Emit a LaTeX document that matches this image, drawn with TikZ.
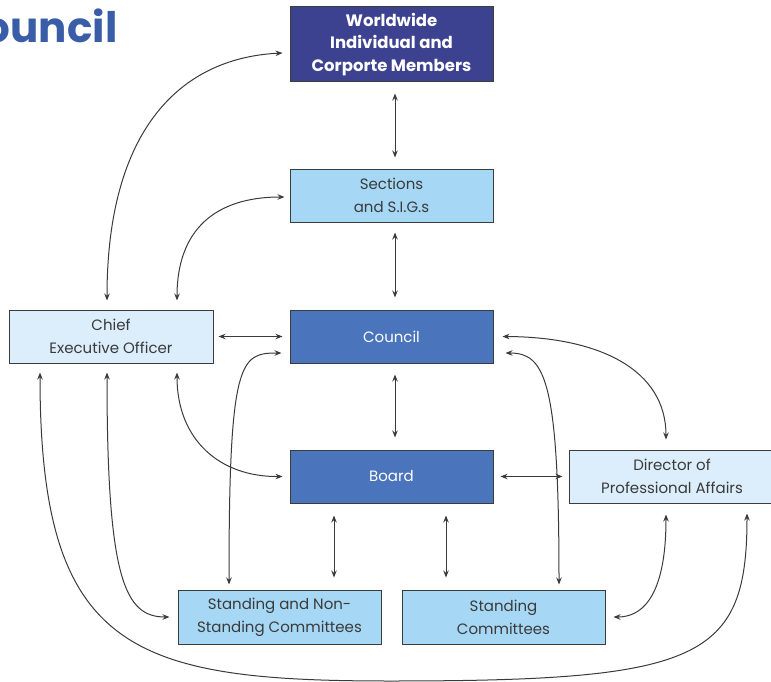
\documentclass[tikz,border=0pt]{standalone}
\usepackage{fontspec}
\setmainfont{Poppins}
\usetikzlibrary{arrows.meta,calc}
\definecolor{navy}{HTML}{3D4290}
\definecolor{midblue}{HTML}{4A74BC}
\definecolor{lightblue}{HTML}{A6D8F6}
\definecolor{paleblue}{HTML}{DCEEFB}
\definecolor{bordergray}{HTML}{3C3C3C}
\definecolor{textgray}{HTML}{3A3A3A}
\definecolor{titleblue}{HTML}{3A5DA8}
\tikzset{
  box/.style={draw=bordergray, line width=1pt, minimum width=203pt, minimum height=53pt,
    align=center, inner sep=0pt, text=textgray, font=\fontsize{15}{23}\selectfont},
  conn/.style={draw=textgray, line width=1pt,
    {Stealth[length=7pt,width=5.5pt]}-{Stealth[length=7pt,width=5.5pt]}},
}
\begin{document}
\begin{tikzpicture}[x=1pt,y=-1pt]
\useasboundingbox (0,0) rectangle (771,682);
\node[anchor=base east, font=\fontsize{42}{42}\selectfont\bfseries, text=titleblue] (title) at (121,43) {Council};
\node[box, fill=navy, text=white, minimum height=75pt, font=\fontsize{16.5}{22.5}\selectfont\bfseries] (ww) at (391.5,44.5) {Worldwide\\Individual and\\Corporte Members};
\node[box, fill=lightblue] (sec) at (391.5,195.5) {Sections\\and S.I.G.s};
\node[box, fill=midblue, text=white] (cou) at (391.5,336.5) {Council};
\node[box, fill=midblue, text=white] (brd) at (391.5,476.5) {Board};
\node[box, fill=paleblue, minimum width=204pt] (ceo) at (111,336.5) {Chief\\Executive Officer};
\node[box, fill=paleblue, minimum width=206pt] (dir) at (672,476.5) {Director of\\Professional Affairs};
\node[box, fill=lightblue, minimum height=54pt] (snc) at (279.5,617) {Standing and Non-\\Standing Committees};
\node[box, fill=lightblue, minimum height=54pt] (sc) at (503.5,617) {Standing\\Committees};

\draw[conn, shorten <=11pt, shorten >=11pt] ([xshift=3.5pt]ww.south) -- ([xshift=3.5pt]sec.north);
\draw[conn, shorten <=10pt, shorten >=12pt] ([xshift=3.5pt]sec.south) -- ([xshift=3.5pt]cou.north);
\draw[conn, shorten <=11pt, shorten >=12pt] ([xshift=3.5pt]cou.south) -- ([xshift=3.5pt]brd.north);
\draw[conn, shorten <=5pt, shorten >=7pt] (ceo.east) -- (cou.west);
\draw[conn, shorten <=7pt, shorten >=6pt] (brd.east) -- (dir.west);
\draw[conn, shorten <=12pt, shorten >=12pt] ([xshift=-57.5pt]brd.south) -- ([xshift=54.5pt]snc.north);
\draw[conn, shorten <=12pt, shorten >=12pt] ([xshift=54.5pt]brd.south) -- ([xshift=-57.5pt]sc.north);

\draw[conn] ([xshift=-4pt,yshift=9pt]ceo.north) .. controls (107,130) and (180,58) .. ([xshift=-7pt,yshift=-8.5pt]ww.west);
\draw[conn] ([xshift=66pt,yshift=9pt]ceo.north) .. controls (177,230) and (215,197) .. ([xshift=-5pt,yshift=-1.5pt]sec.west);
\draw[conn] ([xshift=66pt,yshift=-9pt]ceo.south) .. controls (177,440) and (220,477) .. ([xshift=-7pt]brd.west);
\draw[conn] ([xshift=-4pt,yshift=-9pt]ceo.south) .. controls (107,580) and (125,617) .. ([xshift=-8pt]snc.west);
\draw[conn] ([xshift=-71pt,yshift=-9pt]ceo.south) .. controls (40,650) and (130,681) .. (390,681) .. controls (700,681) and (747,660) .. ([xshift=75pt,yshift=-10pt]dir.south);
\draw[conn] ([xshift=-50.5pt,yshift=5pt]snc.north) .. controls (229,360) and (240,353) .. ([xshift=-8pt,yshift=-16.5pt]cou.west);
\draw[conn] ([xshift=9pt]cou.east) .. controls (600,337) and (666,370) .. ([xshift=-6pt,yshift=10pt]dir.north);
\draw[conn] ([xshift=55.5pt,yshift=5pt]sc.north) .. controls (559,380) and (545,353) .. ([xshift=12pt,yshift=-16.5pt]cou.east);
\draw[conn] ([xshift=-6pt,yshift=-11pt]dir.south) .. controls (666,600) and (640,617) .. ([xshift=8pt]sc.east);
\end{tikzpicture}
\end{document}
